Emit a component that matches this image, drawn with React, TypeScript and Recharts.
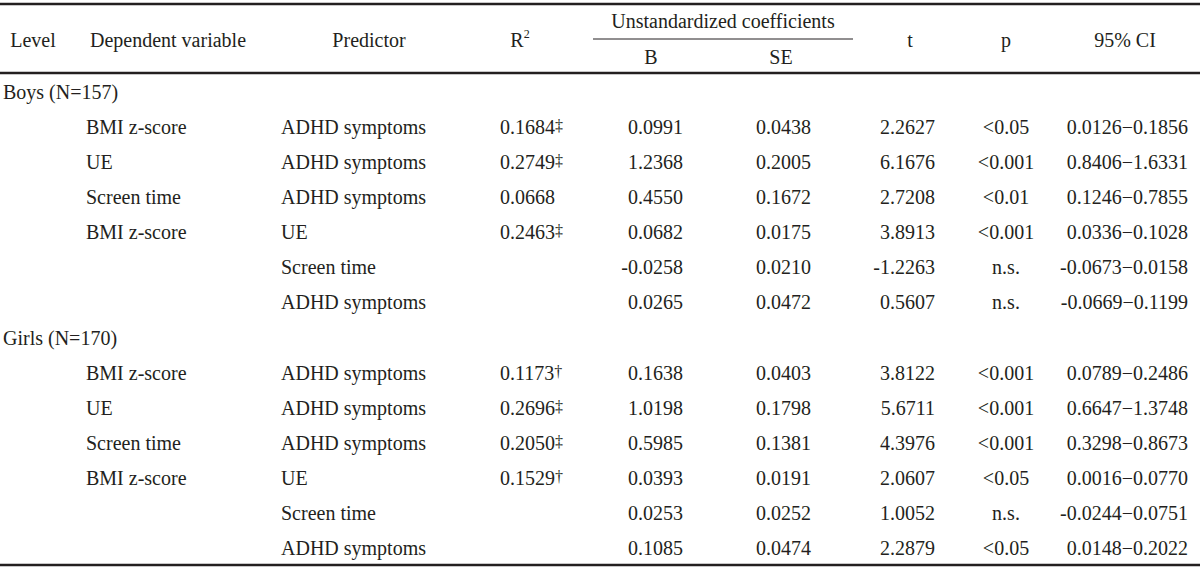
import React from 'react'
import { ScatterChart, Scatter, XAxis, YAxis, ReferenceLine } from 'recharts'

const groups = ['Boys (N=157)', 'Girls (N=170)']
const dependents = ['BMI z-score', 'UE', 'Screen time', 'BMI z-score', '', '']
const predictors = ['ADHD symptoms', 'ADHD symptoms', 'ADHD symptoms', 'UE', 'Screen time', 'ADHD symptoms']

const boysR2 = ['0.1684‡', '0.2749‡', '0.0668', '0.2463‡', '', '']
const boysB = ['0.0991', '1.2368', '0.4550', '0.0682', '-0.0258', '0.0265']
const boysSE = ['0.0438', '0.2005', '0.1672', '0.0175', '0.0210', '0.0472']
const boysT = ['2.2627', '6.1676', '2.7208', '3.8913', '-1.2263', '0.5607']
const boysP = ['<0.05', '<0.001', '<0.01', '<0.001', 'n.s.', 'n.s.']
const boysCI = ['0.0126−0.1856', '0.8406−1.6331', '0.1246−0.7855', '0.0336−0.1028', '-0.0673−0.0158', '-0.0669−0.1199']

const girlsR2 = ['0.1173†', '0.2696‡', '0.2050‡', '0.1529†', '', '']
const girlsB = ['0.1638', '1.0198', '0.5985', '0.0393', '0.0253', '0.1085']
const girlsSE = ['0.0403', '0.1798', '0.1381', '0.0191', '0.0252', '0.0474']
const girlsT = ['3.8122', '5.6711', '4.3976', '2.0607', '1.0052', '2.2879']
const girlsP = ['<0.001', '<0.001', '<0.001', '<0.05', 'n.s.', '<0.05']
const girlsCI = ['0.0789−0.2486', '0.6647−1.3748', '0.3298−0.8673', '0.0016−0.0770', '-0.0244−0.0751', '0.0148−0.2022']

const headers = ['Level', 'Dependent variable', 'Predictor', 'R2', 'Unstandardized coefficients', 'B', 'SE', 't', 'p', '95% CI']

// layout: column anchors (x, px) and text anchors
const COLS = {
  group: { x: 3, anchor: 'start' },
  dep: { x: 86, anchor: 'start' },
  pred: { x: 281, anchor: 'start' },
  r2: { x: 500, anchor: 'start' },
  b: { x: 683, anchor: 'end' },
  se: { x: 811, anchor: 'end' },
  t: { x: 935, anchor: 'end' },
  p: { x: 1006, anchor: 'middle' },
  ci: { x: 1188, anchor: 'end' },
}
const HEAD_X = [33, 168, 369, 520, 723, 651, 781, 910, 1006, 1125]
const HEAD_Y = [-1.482, -1.482, -1.482, -1.482, -2.024, -0.998, -0.998, -1.482, -1.482, -1.482]

const INK = '#231f20'
const FONT = '"Liberation Serif", "Times New Roman", serif'

type Cell = { x: number; y: number; text: string; anchor: string }

const cells: Cell[] = []
headers.forEach((h, i) => cells.push({ x: HEAD_X[i], y: HEAD_Y[i], text: h, anchor: 'middle' }))

const groupCols = [
  { r2: boysR2, b: boysB, se: boysSE, t: boysT, p: boysP, ci: boysCI },
  { r2: girlsR2, b: girlsB, se: girlsSE, t: girlsT, p: girlsP, ci: girlsCI },
]
groups.forEach((g, gi) => {
  const base = gi * 7
  cells.push({ x: COLS.group.x, y: base, text: g, anchor: COLS.group.anchor })
  const c = groupCols[gi]
  predictors.forEach((_, ri) => {
    const row = base + 1 + ri
    const add = (key: keyof typeof COLS, text: string) => {
      if (text) cells.push({ x: COLS[key].x, y: row, text, anchor: COLS[key].anchor })
    }
    add('dep', dependents[ri])
    add('pred', predictors[ri])
    add('r2', c.r2[ri])
    add('b', c.b[ri])
    add('se', c.se[ri])
    add('t', c.t[ri])
    add('p', c.p[ri])
    add('ci', c.ci[ri])
  })
})

function CellText(props: any) {
  const { cx, cy, payload } = props
  const text: string = payload.text
  let main = text
  let sup = ''
  if (text === 'R2') { main = 'R'; sup = '2' }
  else if (/[‡†]$/.test(text)) { main = text.slice(0, -1); sup = text.slice(-1) }
  return (
    <text x={cx} y={cy} dy="0.35em" textAnchor={payload.anchor} fill={INK}
      fontFamily={FONT} fontSize={20}>
      {main}
      {sup && <tspan fontSize={sup === '2' ? 12 : 16} dy={sup === '2' ? -9 : -3}>{sup}</tspan>}
    </text>
  )
}

export default function App() {
  return (
    <div style={{ width: 1200, height: 570, background: '#fff' }}>
      <style>{'body{margin:0}'}</style>
      <ScatterChart width={1200} height={570} margin={{ top: 0, right: 0, bottom: 0, left: 0 }}>
        <XAxis type="number" dataKey="x" domain={[0, 1200]} hide />
        <YAxis type="number" dataKey="y" domain={[-2.623, 13.627]} reversed hide />
        <ReferenceLine y={-2.509} stroke={INK} strokeWidth={2.5} />
        <ReferenceLine segment={[{ x: 593, y: -1.511 }, { x: 853, y: -1.511 }]} stroke={INK} strokeWidth={1} />
        <ReferenceLine y={-0.542} stroke={INK} strokeWidth={2.5} />
        <ReferenceLine y={13.484} stroke={INK} strokeWidth={2.5} />
        <Scatter data={cells} shape={CellText} isAnimationActive={false} />
      </ScatterChart>
    </div>
  )
}
